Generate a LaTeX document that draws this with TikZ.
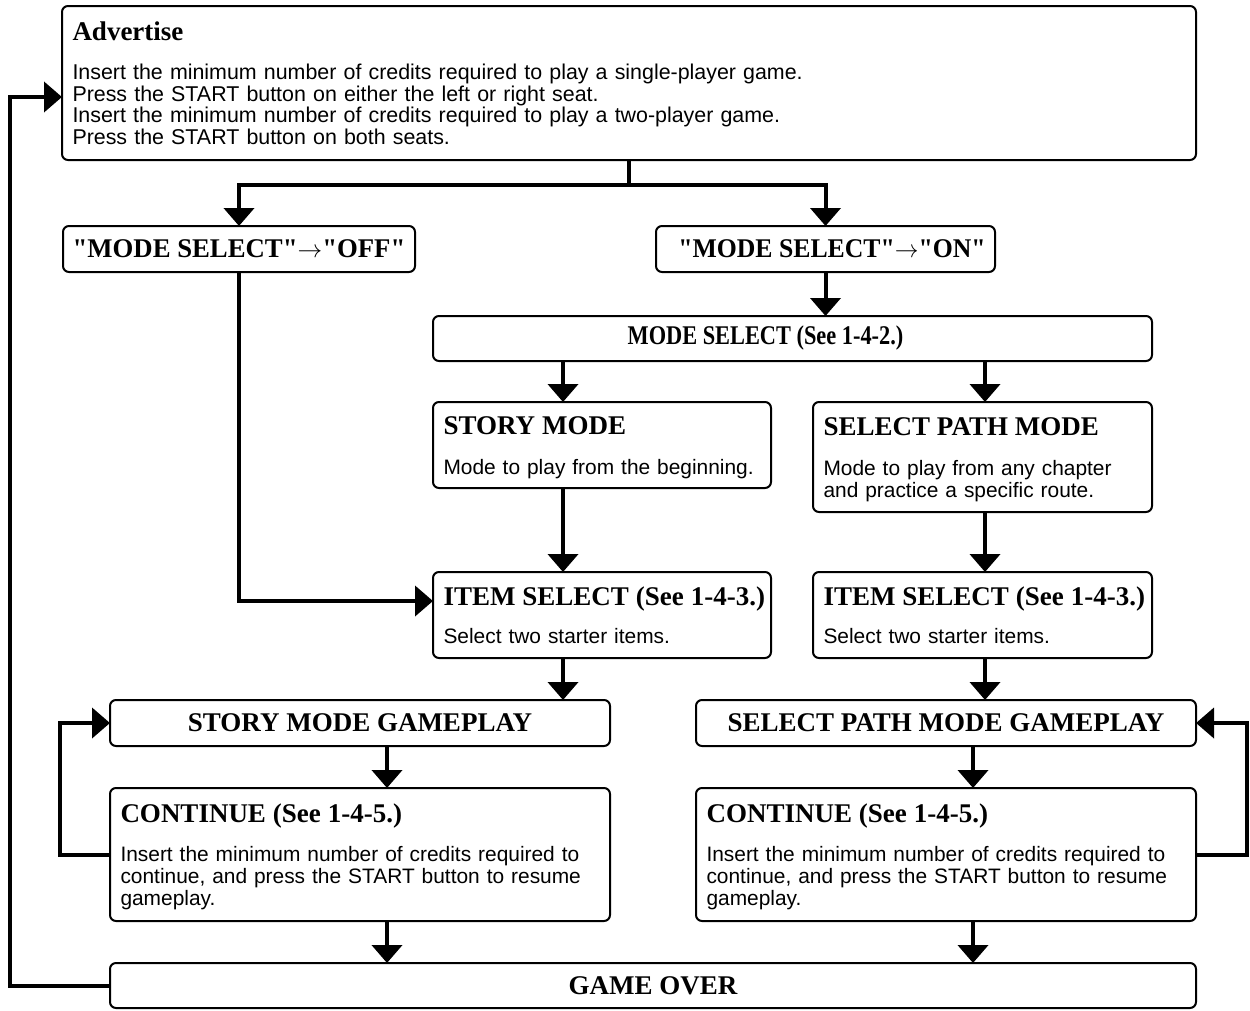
\documentclass[tikz,border=0pt]{standalone}
\usepackage{fontspec}
\setmainfont{Liberation Serif}[Ligatures=TeXOff]
\setsansfont{Liberation Sans}
\usetikzlibrary{arrows.meta}
\newcommand\hd[1]{\mbox{\rule{0pt}{24pt}\rmfamily\bfseries\fontsize{27}{28}\selectfont #1}}
\newcommand\bodyend{\rule[-5pt]{0pt}{5pt}}
\newcommand\toarrow{$\mathbf{\rightarrow}$}

\begin{document}
\begin{tikzpicture}[x=1pt,y=-1pt,
  box/.style={draw,line width=2pt,rounded corners=6pt,anchor=north west,outer sep=0pt,inner xsep=10.5pt,inner ysep=0pt},%
  textbox/.style={box,align=left,font=\sffamily\fontsize{20.9}{21.8}\selectfont},%heading + lines
  titlebox/.style={box,inner xsep=6pt,align=center,font=\rmfamily\bfseries\fontsize{27}{28}\selectfont},
  arr/.style={line width=4pt,-{Triangle[width=30pt,length=18pt]}}
  ]
\useasboundingbox (0,0) rectangle (1250,1010);

\node[textbox,text width=1113pt,minimum height=154pt,font=\sffamily\fontsize{21.4}{21.7}\selectfont] (adv) at (62,6) {\hd{Advertise}\\[17.5pt]
Insert the minimum number of credits required to play a single-player game.\\
Press the START button on either the left or right seat.\\
Insert the minimum number of credits required to play a two-player game.\\
Press the START button on both seats.\bodyend};

\node[titlebox,minimum width=352pt,minimum height=46pt] (off) at (63,226) {\scalebox{0.99}[1]{"MODE SELECT"\toarrow"OFF"}};
\node[titlebox,minimum width=339pt,minimum height=46pt] (on) at (656,226) {\hspace*{13pt}\scalebox{0.953}[1]{"MODE SELECT"\toarrow"ON"}};
\node[titlebox,minimum width=719pt,minimum height=45pt] (msel) at (433,316) {\scalebox{0.828}[1]{MODE SELECT (See 1-4-2.)}\hspace*{54pt}};

\node[textbox,text width=317pt,minimum height=86pt] (story) at (433,402) {\hd{STORY MODE}\\[17.5pt]
Mode to play from the beginning.\bodyend};
\node[textbox,text width=318pt,minimum height=110pt] (path) at (813,402) {\hd{SELECT PATH MODE}\\[17.5pt]
Mode to play from any chapter\\
and practice a specific route.\bodyend};

\node[textbox,text width=317pt,minimum height=86pt] (il) at (433,572) {\hd{ITEM SELECT (See 1-4-3.)}\\[16pt]
Select two starter items.\bodyend};
\node[textbox,text width=318pt,minimum height=86pt] (ir) at (813,572) {\hd{ITEM SELECT (See 1-4-3.)}\\[16pt]
Select two starter items.\bodyend};

\node[titlebox,minimum width=500pt,minimum height=46pt] (sg) at (110,700) {STORY MODE GAMEPLAY};
\node[titlebox,minimum width=500pt,minimum height=46pt] (pg) at (696,700) {SELECT PATH MODE GAMEPLAY};

\node[textbox,text width=479pt,minimum height=133pt] (cl) at (110,788) {\hd{CONTINUE (See 1-4-5.)}\\[17.5pt]
Insert the minimum number of credits required to\\
continue, and press the START button to resume\\
gameplay.\bodyend};
\node[textbox,text width=479pt,minimum height=133pt] (cr) at (696,788) {\hd{CONTINUE (See 1-4-5.)}\\[17.5pt]
Insert the minimum number of credits required to\\
continue, and press the START button to resume\\
gameplay.\bodyend};

\node[titlebox,minimum width=1086pt,minimum height=45pt] (over) at (110,963) {GAME OVER};

% arrow columns
\coordinate (xl) at (563,0);
\coordinate (xr) at (985,0);
\coordinate (xgl) at (387,0);
\coordinate (xgr) at (973,0);

\draw[line width=4pt] (adv.south) -- ++(0,25) coordinate (fork);
\draw[arr] (fork) -| (off.north);
\draw[arr] (fork) -| (on.north);
\draw[arr] (on.south) -- (msel.north -| on.south);
\draw[arr] (msel.south -| xl) -- (story.north -| xl);
\draw[arr] (msel.south -| xr) -- (path.north -| xr);
\draw[arr] (story.south -| xl) -- (il.north -| xl);
\draw[arr] (path.south -| xr) -- (ir.north -| xr);
\draw[arr] (off.south) |- (il.west |- 0,601);
\draw[arr] (il.south -| xl) -- (sg.north -| xl);
\draw[arr] (ir.south -| xr) -- (pg.north -| xr);
\draw[arr] (sg.south -| xgl) -- (cl.north -| xgl);
\draw[arr] (pg.south -| xgr) -- (cr.north -| xgr);
\draw[arr] (cl.south -| xgl) -- (over.north -| xgl);
\draw[arr] (cr.south -| xgr) -- (over.north -| xgr);

% loops back
\draw[arr] (cl.west) -- ++(-50,0) |- (sg.west);
\draw[arr] (cr.east) -- ++(51,0) |- (pg.east);
\draw[arr] (over.west) -| (10,97) -- (adv.west |- 0,97);
\end{tikzpicture}
\end{document}
